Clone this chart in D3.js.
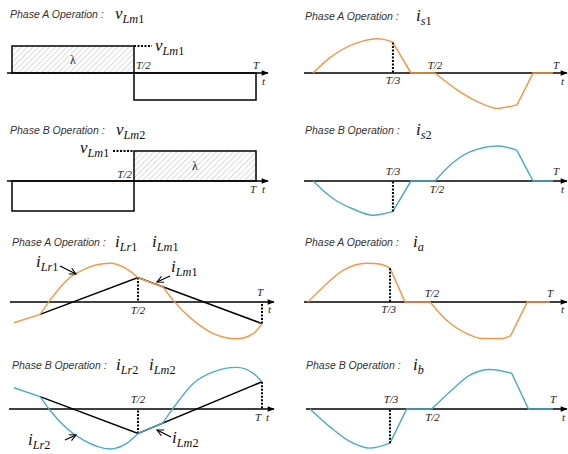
<!DOCTYPE html>
<html>
<head>
<meta charset="utf-8">
<script src="https://cdn.jsdelivr.net/npm/d3@7"></script>
<style>
body { margin: 0; background: #fff; }
.cap { font-family: "Liberation Sans", "DejaVu Sans", sans-serif; font-style: italic; font-size: 10.5px; fill: #333; }
.math { font-family: "Liberation Serif", "DejaVu Serif", serif; font-style: italic; fill: #111; }
.tl { font-family: "Liberation Serif", "DejaVu Serif", serif; font-style: italic; font-size: 11px; fill: #222; }
</style>
</head>
<body>
<svg id="chart" width="568" height="454"></svg>
<script>
// ---- data (t in periods, values normalised to the peak) ----
var tMarks = [1 / 3, 1 / 2, 1];
var tNames = ["T/3", "T/2", "T"];

// square waves: [t start, t end, level]
var vLm1 = [[0, 0.5, 1], [0.5, 1, -1]];
var vLm2 = [[0, 0.5, -1], [0.5, 1, 1]];

var is1Arcs = [
    [[0, 0], [0.071, 0.44], [0.183, 0.86], [0.271, 0.98], [0.321, 0.91], [0.333, 0.87]],
    [[0.508, 0], [0.6, -0.48], [0.683, -0.81], [0.767, -1.01], [0.85, -0.91]]
];
var is1Lines = [
    [[0.333, 0.87], [0.408, 0], [0.508, 0]],
    [[0.85, -0.91], [0.917, 0], [1, 0]]
];

var is2Arcs = [
    [[0, 0], [0.083, -0.5], [0.167, -0.8], [0.25, -0.98], [0.333, -0.87]],
    [[0.508, 0], [0.571, 0.45], [0.654, 0.83], [0.771, 1.0], [0.849, 0.88]]
];
var is2Lines = [
    [[0.333, -0.87], [0.408, 0], [0.508, 0]],
    [[0.849, 0.88], [0.917, 0], [1, 0]]
];

var iLm1 = [[0.105, -0.31], [0.5, 0.61], [1, -0.54]];
var iLr1Arcs = [
    [[0.105, -0.31], [0.145, 0.04], [0.212, 0.54], [0.28, 0.81], [0.387, 0.97], [0.454, 0.83], [0.5, 0.61]],
    [[0.602, 0.37], [0.642, 0.04], [0.723, -0.46], [0.804, -0.79], [0.898, -0.92], [0.965, -0.79], [1, -0.54]]
];
var iLr1Lines = [
    [[0, -0.52], [0.105, -0.31]],
    [[0.5, 0.61], [0.602, 0.37]]
];

var iaArcs = [
    [[0, 0], [0.062, 0.39], [0.145, 0.83], [0.242, 1.02], [0.297, 1.0], [0.339, 0.89]],
    [[0.504, 0], [0.573, -0.48], [0.656, -0.83], [0.723, -0.96], [0.806, -0.96], [0.838, -0.88]]
];
var iaLines = [
    [[0.339, 0.89], [0.401, 0], [0.504, 0]],
    [[0.838, -0.88], [0.906, 0], [1, 0]]
];

var iLm2 = [[0.105, 0.31], [0.5, -0.61], [1, 0.68]];
var iLr2Arcs = [
    [[0.105, 0.31], [0.145, -0.03], [0.212, -0.48], [0.28, -0.78], [0.387, -1.0], [0.454, -0.86], [0.5, -0.61]],
    [[0.6, -0.35], [0.642, 0.02], [0.723, 0.64], [0.804, 0.93], [0.898, 1.04], [0.965, 0.89], [1, 0.68]]
];
var iLr2Lines = [
    [[0, 0.53], [0.105, 0.31]],
    [[0.5, -0.61], [0.6, -0.35]]
];

var ibArcs = [
    [[0, 0], [0.082, -0.47], [0.165, -0.86], [0.247, -1.03], [0.329, -0.9]],
    [[0.501, 0], [0.584, 0.5], [0.658, 0.89], [0.741, 1.04], [0.83, 0.94]]
];
var ibLines = [
    [[0.329, -0.9], [0.398, 0], [0.501, 0]],
    [[0.83, 0.94], [0.899, 0], [1, 0]]
];

var orange = "#f79646", cyan = "#4bacc6";

var svg = d3.select("#chart");
var defs = svg.append("defs");

defs.append("marker")
    .attr("id", "axhead")
    .attr("viewBox", "0 0 10 10")
    .attr("refX", 9).attr("refY", 5)
    .attr("markerWidth", 8).attr("markerHeight", 7)
    .attr("markerUnits", "userSpaceOnUse")
    .attr("orient", "auto")
    .append("path").attr("d", "M0,1L10,5L0,9Z").attr("fill", "#000");

defs.append("marker")
    .attr("id", "pointer")
    .attr("viewBox", "0 0 10 10")
    .attr("refX", 9).attr("refY", 5)
    .attr("markerWidth", 8).attr("markerHeight", 8)
    .attr("markerUnits", "userSpaceOnUse")
    .attr("orient", "auto")
    .append("path").attr("d", "M1,1L9,5L1,9")
    .attr("fill", "none").attr("stroke", "#000").attr("stroke-width", 1.4);

var hatch = defs.append("pattern")
    .attr("id", "hatch")
    .attr("patternUnits", "userSpaceOnUse")
    .attr("width", 4).attr("height", 4)
    .attr("patternTransform", "rotate(45)");
hatch.append("line")
    .attr("x1", 0).attr("y1", 0).attr("x2", 0).attr("y2", 4)
    .attr("stroke", "#b0b0b0").attr("stroke-width", 0.9);

var smooth = d3.line().curve(d3.curveMonotoneX);
var straight = d3.line();

function panel(c) {
    var g = svg.append("g");
    var x = d3.scaleLinear().domain([0, 1]).range([c.x0, c.x1]);
    var y = d3.scaleLinear().domain([-1, 1]).range([c.axisY + c.amp, c.axisY - c.amp]);
    g.append("line")
        .attr("x1", c.axL).attr("x2", c.axR)
        .attr("y1", y(0)).attr("y2", y(0))
        .attr("stroke", "#000").attr("stroke-width", 1.5)
        .attr("marker-end", "url(#axhead)");
    // T marks
    c.marks.forEach(function (m) {
        g.append("text").attr("class", "tl")
            .attr("x", x(tMarks[m.k]) + m.dx)
            .attr("y", y(0) + m.dy)
            .attr("text-anchor", m.a || "middle")
            .text(tNames[m.k]);
    });
    g.append("text").attr("class", "tl")
        .attr("x", c.axR + c.tdx).attr("y", y(0) + c.tdy)
        .text("t");
    // caption
    g.append("text").attr("class", "cap")
        .attr("x", c.capX).attr("y", c.capY)
        .text(c.caption);
    return {g: g, x: x, y: y};
}

function mathLabel(g, x, y, sym, sub, size) {
    var t = g.append("text").attr("class", "math")
        .attr("x", x).attr("y", y)
        .style("font-size", size + "px");
    t.append("tspan").text(sym);
    var m = sub.match(/^(\D*)(\d*)$/);
    t.append("tspan").attr("dy", size * 0.25)
        .style("font-size", (size * 0.72) + "px").text(m[1]);
    if (m[2]) {
        t.append("tspan").style("font-size", (size * 0.72) + "px")
            .style("font-style", "normal").text(m[2]);
    }
    return t;
}

function squareWave(p, levels) {
    levels.forEach(function (d) {
        var top = Math.min(p.y(d[2]), p.y(0));
        var h = Math.abs(p.y(d[2]) - p.y(0));
        p.g.append("rect")
            .attr("x", p.x(d[0])).attr("y", top)
            .attr("width", p.x(d[1]) - p.x(d[0])).attr("height", h)
            .attr("fill", d[2] > 0 ? "url(#hatch)" : "none")
            .attr("stroke", "#000").attr("stroke-width", 1.5);
        if (d[2] > 0) {
            p.g.append("text")
                .attr("x", p.x((d[0] + d[1]) / 2))
                .attr("y", (p.y(d[2]) + p.y(0)) / 2 + 4)
                .attr("text-anchor", "middle")
                .style("font-family", "Liberation Serif, serif")
                .style("font-size", "12px").attr("fill", "#222")
                .text("λ");
        }
    });
}

function wave(p, arcs, lines, color) {
    var pts = function (a) { return a.map(function (d) { return [p.x(d[0]), p.y(d[1])]; }); };
    lines.forEach(function (a) {
        p.g.append("path").attr("d", straight(pts(a)))
            .attr("fill", "none").attr("stroke", color).attr("stroke-width", 1.5);
    });
    arcs.forEach(function (a) {
        p.g.append("path").attr("d", smooth(pts(a)))
            .attr("fill", "none").attr("stroke", color).attr("stroke-width", 1.4);
    });
}

function dotted(p, x1, y1, x2, y2) {
    p.g.append("line")
        .attr("x1", x1).attr("y1", y1).attr("x2", x2).attr("y2", y2)
        .attr("stroke", "#000").attr("stroke-width", 2)
        .attr("stroke-dasharray", "2,1.5");
}

function vdrop(p, d) {
    dotted(p, p.x(d[0]), p.y(d[1]), p.x(d[0]), p.y(0));
}

function pointer(g, x1, y1, x2, y2, bend) {
    var mx = (x1 + x2) / 2, my = (y1 + y2) / 2 + bend;
    g.append("path")
        .attr("d", "M" + x1 + "," + y1 + "Q" + mx + "," + my + " " + x2 + "," + y2)
        .attr("fill", "none").attr("stroke", "#000").attr("stroke-width", 1.3)
        .attr("marker-end", "url(#pointer)");
}

// ---- panel 1: Phase A v_Lm1 ----
var p1 = panel({x0: 12, x1: 256, axisY: 73, amp: 27, axL: 7, axR: 268,
    marks: [{k: 1, dx: 2, dy: -4, a: "start"}, {k: 2, dx: 0, dy: -4}], tdx: -6, tdy: 12,
    caption: "Phase A Operation :", capX: 10, capY: 18});
squareWave(p1, vLm1);
dotted(p1, p1.x(0.5), p1.y(1), p1.x(0.5) + 18, p1.y(1));
mathLabel(p1.g, 155, 51, "v", "Lm1", 17);
mathLabel(p1.g, 115, 19, "v", "Lm1", 17);

// ---- panel 2: Phase A i_s1 ----
var p2 = panel({x0: 313, x1: 553, axisY: 73, amp: 35, axL: 304, axR: 567,
    marks: [{k: 0, dx: 0, dy: 11}, {k: 1, dx: 2, dy: -4}, {k: 2, dx: 3, dy: -4}], tdx: -6, tdy: 12,
    caption: "Phase A Operation  :", capX: 305, capY: 20});
wave(p2, is1Arcs, is1Lines, orange);
vdrop(p2, is1Arcs[0][is1Arcs[0].length - 1]);
mathLabel(p2.g, 416, 21, "i", "s1", 17);

// ---- panel 3: Phase B v_Lm2 ----
var p3 = panel({x0: 12, x1: 256, axisY: 181, amp: 30, axL: 7, axR: 268,
    marks: [{k: 1, dx: -2, dy: -3, a: "end"}, {k: 2, dx: -3, dy: 12}], tdx: -6, tdy: 12,
    caption: "Phase B Operation :", capX: 10, capY: 134});
squareWave(p3, vLm2);
dotted(p3, p3.x(0.5) - 21, p3.y(1), p3.x(0.5), p3.y(1));
mathLabel(p3.g, 80, 153, "v", "Lm1", 17);
mathLabel(p3.g, 116, 135, "v", "Lm2", 17);

// ---- panel 4: Phase B i_s2 ----
var p4 = panel({x0: 313, x1: 553, axisY: 181, amp: 35, axL: 304, axR: 567,
    marks: [{k: 0, dx: 0, dy: -6}, {k: 1, dx: 4, dy: 12}, {k: 2, dx: 3, dy: -6}], tdx: -6, tdy: 12,
    caption: "Phase B Operation  :", capX: 305, capY: 134});
wave(p4, is2Arcs, is2Lines, cyan);
vdrop(p4, is2Arcs[0][is2Arcs[0].length - 1]);
mathLabel(p4.g, 416, 135, "i", "s2", 17);

// ---- panel 5: Phase A i_Lr1, i_Lm1 ----
var p5 = panel({x0: 14, x1: 262, axisY: 302, amp: 40, axL: 10, axR: 274,
    marks: [{k: 1, dx: 0, dy: 12}, {k: 2, dx: -2, dy: -6}], tdx: -6, tdy: 11,
    caption: "Phase A Operation :", capX: 12, capY: 246});
p5.g.append("path").attr("d", straight(iLm1.map(function (d) { return [p5.x(d[0]), p5.y(d[1])]; })))
    .attr("fill", "none").attr("stroke", "#000").attr("stroke-width", 1.5);
vdrop(p5, iLm1[1]);
vdrop(p5, iLm1[2]);
wave(p5, iLr1Arcs, iLr1Lines, orange);
mathLabel(p5.g, 115, 247, "i", "Lr1", 17);
mathLabel(p5.g, 152, 247, "i", "Lm1", 17);
mathLabel(p5.g, 36, 267, "i", "Lr1", 17);
mathLabel(p5.g, 171, 272, "i", "Lm1", 17);
pointer(p5.g, 60, 266, 76, 274, 0);
pointer(p5.g, 170, 276, 157, 282, 0);

// ---- panel 6: Phase A i_a ----
var p6 = panel({x0: 308, x1: 550, axisY: 302, amp: 38, axL: 304, axR: 567,
    marks: [{k: 0, dx: 0, dy: 11}, {k: 1, dx: 3, dy: -5}, {k: 2, dx: 0, dy: -5}], tdx: -6, tdy: 11,
    caption: "Phase A Operation  :", capX: 305, capY: 246});
wave(p6, iaArcs, iaLines, orange);
vdrop(p6, iaArcs[0][iaArcs[0].length - 1]);
mathLabel(p6.g, 413, 247, "i", "a", 17);

// ---- panel 7: Phase B i_Lr2, i_Lm2 ----
var p7 = panel({x0: 14, x1: 262, axisY: 409, amp: 40, axL: 9, axR: 274,
    marks: [{k: 1, dx: 0, dy: -6}, {k: 2, dx: -4, dy: 12}], tdx: -8, tdy: 12,
    caption: "Phase B Operation :", capX: 12, capY: 369});
p7.g.append("path").attr("d", straight(iLm2.map(function (d) { return [p7.x(d[0]), p7.y(d[1])]; })))
    .attr("fill", "none").attr("stroke", "#000").attr("stroke-width", 1.5);
vdrop(p7, iLm2[1]);
vdrop(p7, iLm2[2]);
wave(p7, iLr2Arcs, iLr2Lines, cyan);
mathLabel(p7.g, 116, 370, "i", "Lr2", 17);
mathLabel(p7.g, 149, 370, "i", "Lm2", 17);
mathLabel(p7.g, 28, 445, "i", "Lr2", 17);
mathLabel(p7.g, 172, 443, "i", "Lm2", 17);
pointer(p7.g, 65, 440, 76, 435, 0);
pointer(p7.g, 171, 437, 157, 430, 0);

// ---- panel 8: Phase B i_b ----
var p8 = panel({x0: 310, x1: 553, axisY: 409, amp: 38, axL: 306, axR: 567,
    marks: [{k: 0, dx: 0, dy: -6}, {k: 1, dx: 1, dy: 12}, {k: 2, dx: 0, dy: -6}], tdx: -5, tdy: 12,
    caption: "Phase B Operation  :", capX: 306, capY: 369});
wave(p8, ibArcs, ibLines, cyan);
vdrop(p8, ibArcs[0][ibArcs[0].length - 1]);
mathLabel(p8.g, 413, 370, "i", "b", 17);
</script>
</body>
</html>
